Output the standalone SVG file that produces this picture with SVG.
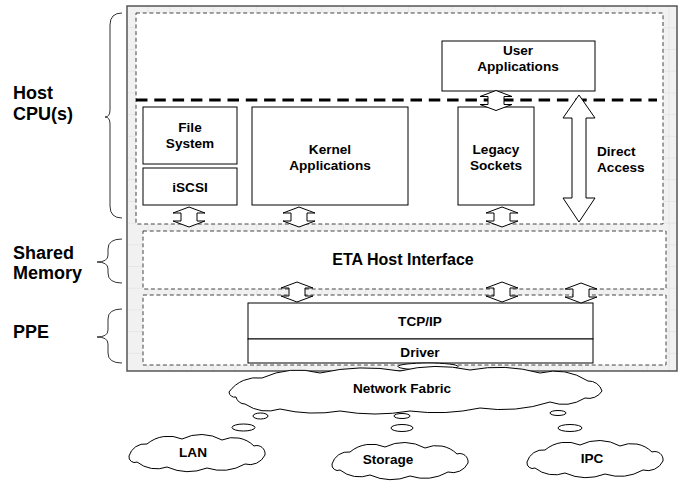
<svg xmlns="http://www.w3.org/2000/svg" xmlns:xlink="http://www.w3.org/1999/xlink" width="680" height="487" viewBox="0 0 680 487">
  <style>
    .lbl { font-family: "Liberation Sans", Arial, sans-serif; font-weight: bold; font-size: 13.6px; fill: #000; text-anchor: middle; }
    .side { font-family: "Liberation Sans", Arial, sans-serif; font-weight: bold; font-size: 18px; fill: #000; }
    .box { fill: #fff; stroke: #000; stroke-width: 1; }
    .zone { fill: #fff; stroke: #444; stroke-width: 1; stroke-dasharray: 4 2.7; }
    .brace { fill: none; stroke: #333; stroke-width: 1; }
    .arrow { fill: #fff; stroke: #000; stroke-width: 1; stroke-linejoin: miter; }
    .cloud { fill: #fff; stroke: #000; stroke-width: 1; }
    .bubble { fill: #fff; stroke: #000; stroke-width: 1; }
  </style>
  <defs>
    <pattern id="grid" x="127" y="6.6" width="21.7" height="21.7" patternUnits="userSpaceOnUse">
      <rect width="21.7" height="21.7" fill="#f1f1f1"/>
      <path d="M21.7 0 V21.7 M0 21.7 H21.7" fill="none" stroke="#dcdcdc" stroke-width="1"/>
    </pattern>
    <!-- short two-headed block arrow, 32 wide, 20 tall, centred on origin -->
    <path id="dblArrow" d="M0,-10 L16,-4 L8,-4 L8,4 L16,4 L0,10 L-16,4 L-8,4 L-8,-4 L-16,-4 Z"/>
    <!-- small scalloped cloud, about 140 x 40, centred on origin -->
    <path id="smallCloud" d="M-68,3 A16.6,16.6 0 0 1 -50,-9 A33.7,33.7 0 0 1 -15,-14 A42.5,42.5 0 0 1 25,-13 A29,29 0 0 1 57,-7 A8.3,8.3 0 0 1 68,2 A17,17 0 0 1 48,11 A47.6,47.6 0 0 1 10,15 A52,52 0 0 1 -30,14 A31,31 0 0 1 -60,9 A5.7,5.7 0 0 1 -68,3 Z"/>
  </defs>

  <!-- outer system frame with drawing grid -->
  <rect id="frame" x="127" y="6" width="550" height="365" fill="url(#grid)" stroke="#555" stroke-width="1.5"/>

  <!-- layer zones -->
  <g id="zone-host">
    <rect class="zone" x="136" y="13" width="527" height="211"/>
    <line x1="136" y1="100" x2="657" y2="100" stroke="#000" stroke-width="3" stroke-dasharray="11.5 6.8"/>
  </g>
  <g id="zone-shared">
    <rect class="zone" x="143" y="231" width="523" height="58"/>
  </g>
  <g id="zone-ppe">
    <rect class="zone" x="143" y="295" width="523" height="70"/>
  </g>

  <!-- side labels with braces -->
  <g id="label-host">
    <path class="brace" d="M122,13 Q110,13 110,25 L110,110 Q110,117 105,117 Q110,117 110,124 L110,206 Q110,218 122,218"/>
    <text class="side" x="13" y="99">Host</text>
    <text class="side" x="13" y="120">CPU(s)</text>
  </g>
  <g id="label-shared">
    <path class="brace" d="M122,239 Q108,239 108,249 L108,255 Q108,262 97,262 Q108,262 108,269 L108,273 Q108,283 122,283"/>
    <text class="side" x="13" y="259">Shared</text>
    <text class="side" x="13" y="279">Memory</text>
  </g>
  <g id="label-ppe">
    <path class="brace" d="M122,309 Q108,309 108,319 L108,330 Q108,337 97,337 Q108,337 108,344 L108,353 Q108,363 122,363"/>
    <text class="side" x="13" y="338">PPE</text>
  </g>

  <!-- components -->
  <g id="user-apps">
    <rect class="box" x="442" y="41" width="153" height="50"/>
    <text class="lbl" x="518" y="55">User</text>
    <text class="lbl" x="518" y="71">Applications</text>
  </g>
  <g id="file-system">
    <rect class="box" x="143" y="107" width="94" height="57"/>
    <text class="lbl" x="190" y="132">File</text>
    <text class="lbl" x="190" y="148">System</text>
  </g>
  <g id="iscsi">
    <rect class="box" x="143" y="168" width="94" height="37"/>
    <text class="lbl" x="190" y="192">iSCSI</text>
  </g>
  <g id="kernel-apps">
    <rect class="box" x="252" y="107" width="156" height="98"/>
    <text class="lbl" x="330" y="154">Kernel</text>
    <text class="lbl" x="330" y="170">Applications</text>
  </g>
  <g id="legacy-sockets">
    <rect class="box" x="458" y="107" width="76" height="98"/>
    <text class="lbl" x="496" y="154">Legacy</text>
    <text class="lbl" x="496" y="170">Sockets</text>
  </g>
  <g id="eta-host-interface">
    <text class="lbl" x="403" y="265" style="font-size:16px">ETA Host Interface</text>
  </g>
  <g id="tcpip-driver">
    <rect class="box" x="248" y="303" width="345" height="36"/>
    <rect class="box" x="248" y="339" width="345" height="24"/>
    <text class="lbl" x="420" y="326">TCP/IP</text>
    <text class="lbl" x="420" y="357">Driver</text>
  </g>
  <g id="direct-access-label">
    <text class="lbl" x="597" y="156" style="text-anchor:start">Direct</text>
    <text class="lbl" x="597" y="172" style="text-anchor:start">Access</text>
  </g>

  <!-- network clouds -->
  <g id="network-fabric">
    <ellipse class="bubble" cx="428" cy="366.5" rx="30" ry="3.5" fill="none" stroke="#555"/>
    <path class="cloud" d="M229,392 A34.6,34.6 0 0 1 262,378 A87,87 0 0 1 320,373 A202,202 0 0 1 400,371 A155,155 0 0 1 470,370 A155,155 0 0 1 540,373 A62,62 0 0 1 588,381 A13.8,13.8 0 0 1 602,391 A15.6,15.6 0 0 1 585,398 A40.8,40.8 0 0 1 550,402 A156,156 0 0 1 480,408 A206,206 0 0 1 410,411 A206,206 0 0 1 340,411 A152,152 0 0 1 280,409 A41,41 0 0 1 245,404 A9.1,9.1 0 0 1 236,397 A5.6,5.6 0 0 1 229,392 Z"/>
    <text class="lbl" x="402" y="393">Network Fabric</text>
  </g>
  <g id="lan">
    <ellipse class="bubble" cx="260.5" cy="416" rx="7.5" ry="3"/>
    <ellipse class="bubble" cx="243.5" cy="427.5" rx="11.5" ry="3.5"/>
    <use href="#smallCloud" class="cloud" transform="translate(197,453)"/>
    <text class="lbl" x="193" y="457">LAN</text>
  </g>
  <g id="storage">
    <ellipse class="bubble" cx="402" cy="416" rx="8" ry="2.5"/>
    <ellipse class="bubble" cx="402" cy="428" rx="11" ry="3.5"/>
    <use href="#smallCloud" class="cloud" transform="translate(400,461)"/>
    <text class="lbl" x="388" y="464">Storage</text>
  </g>
  <g id="ipc">
    <ellipse class="bubble" cx="558" cy="413" rx="8" ry="2.5"/>
    <ellipse class="bubble" cx="570" cy="428" rx="12" ry="3.5"/>
    <use href="#smallCloud" class="cloud" transform="translate(595,459)"/>
    <text class="lbl" x="592" y="463">IPC</text>
  </g>

  <!-- connectors -->
  <g id="connectors">
    <use href="#dblArrow" class="arrow" transform="translate(496,100.5)"/>
    <use href="#dblArrow" class="arrow" transform="translate(189,217)"/>
    <use href="#dblArrow" class="arrow" transform="translate(299,217)"/>
    <use href="#dblArrow" class="arrow" transform="translate(502,217)"/>
    <use href="#dblArrow" class="arrow" transform="translate(297,292)"/>
    <use href="#dblArrow" class="arrow" transform="translate(502,292)"/>
    <use href="#dblArrow" class="arrow" transform="translate(581,293)"/>
    <path class="arrow" d="M579,95 L595,118 L586,118 L586,198 L595,198 L579,222 L563,198 L572,198 L572,118 L563,118 Z"/>
  </g>
</svg>
